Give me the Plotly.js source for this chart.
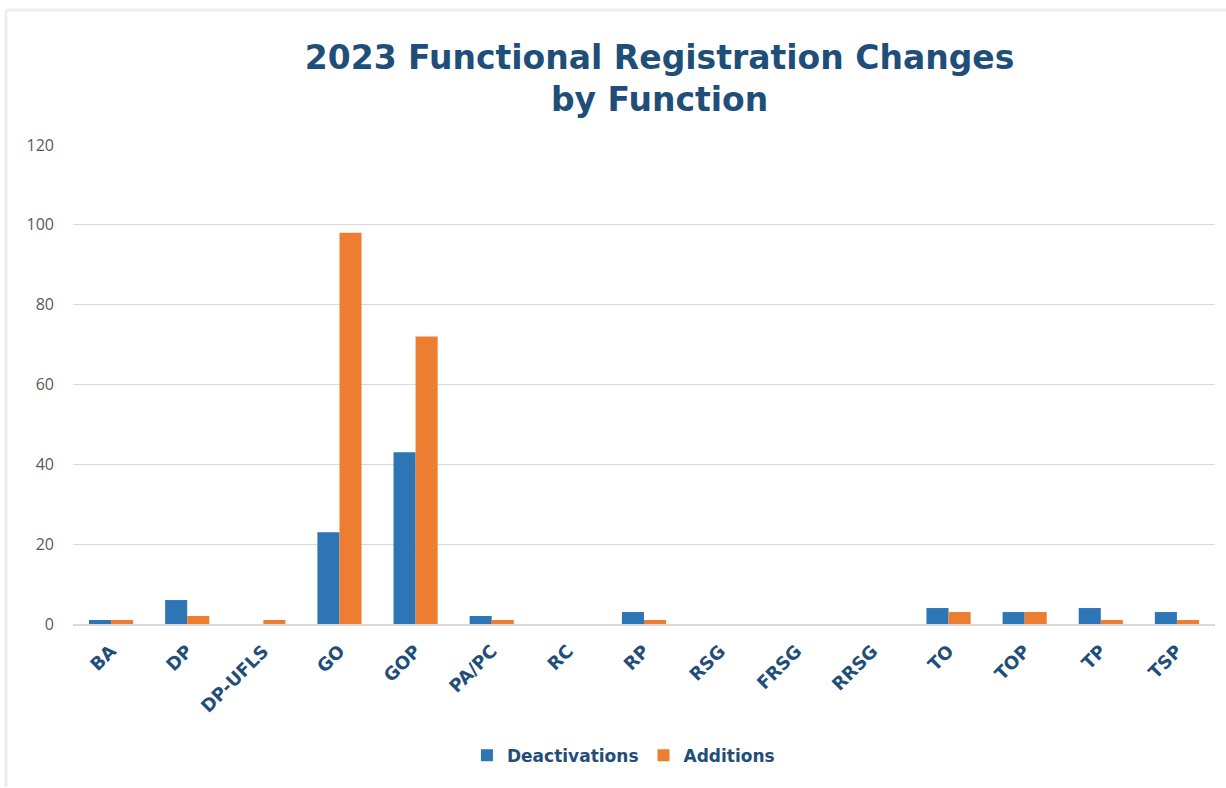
<!DOCTYPE html>
<html>
<head>
<meta charset="utf-8">
<script src="https://cdn.plot.ly/plotly-3.0.1.min.js"></script>
<style>html,body{margin:0;padding:0;background:#fff;}#chart{width:1226px;height:788px;}</style>
</head>
<body>
<div id="chart"></div>
<script>
const categories = ["BA","DP","DP-UFLS","GO","GOP","PA/PC","RC","RP","RSG","FRSG","RRSG","TO","TOP","TP","TSP"];
const deactivations = [1,6,0,23,43,2,0,3,0,0,0,4,3,4,3];
const additions = [1,2,1,98,72,1,0,1,0,0,0,3,3,1,1];
const yTicks = [0,20,40,60,80,100,120];

const navy = "#1F4E79";
const traces = [
  {type:"bar", name:"Deactivations", x:categories, y:deactivations, marker:{color:"#2E75B6"}},
  {type:"bar", name:"Additions", x:categories, y:additions, marker:{color:"#ED7D31"}}
];
const layout = {
  width:1226, height:788,
  paper_bgcolor:"#ffffff", plot_bgcolor:"#ffffff",
  margin:{l:73, r:11, t:145, b:164},
  barmode:"group", bargap:0.42, bargroupgap:0,
  title:{text:"2023 Functional Registration Changes<br>by Function", x:0.538, xanchor:"center", y:0.913, yanchor:"middle",
    font:{family:"DejaVu Sans", size:33, color:navy, weight:"bold"}},
  xaxis:{type:"category", tickangle:-45, tickfont:{family:"DejaVu Sans", size:18, color:navy, weight:"bold"},
    ticklabelstandoff:8,
    showgrid:false, showline:true, linecolor:"#d9d9d9", linewidth:1.5, ticks:"", automargin:false, fixedrange:true},
  yaxis:{range:[0,120], tickvals:yTicks, ticktext:yTicks.map(String), showgrid:true, gridcolor:"#d9d9d9", gridwidth:1,
    zeroline:false, showline:false, ticks:"", ticklen:0, ticklabelstandoff:18,
    tickfont:{family:"Open Sans", size:16, color:"#595959"}, automargin:false},
  showlegend:true,
  legend:{orientation:"h", x:0.482, xanchor:"center", y:-0.275, yanchor:"middle",
    font:{family:"DejaVu Sans", size:17, color:navy, weight:"bold"}, itemwidth:30},
  shapes:[
    {type:"line", xref:"paper", yref:"paper", x0:-0.0587, x1:-0.0587, y0:-0.34, y1:1.282, line:{color:"#eeeeee", width:3}},
    {type:"line", xref:"paper", yref:"paper", x0:-0.0587, x1:1.02, y0:1.282, y1:1.282, line:{color:"#eeeeee", width:3}}
  ]
};
Plotly.newPlot("chart", traces, layout, {displayModeBar:false, staticPlot:true});
</script>
</body>
</html>
